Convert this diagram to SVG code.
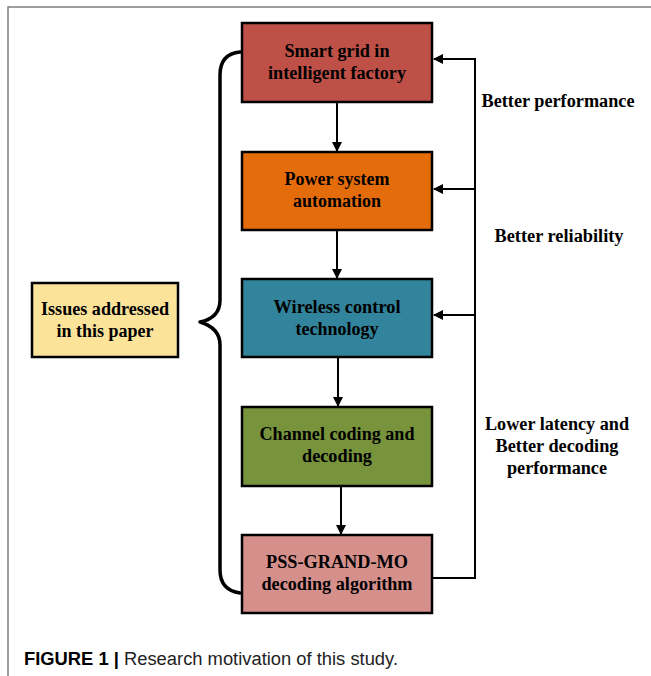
<svg xmlns="http://www.w3.org/2000/svg" width="651" height="676" viewBox="0 0 651 676">
<style>
.box{stroke:#000;stroke-width:2.5}
.t{font-family:"Liberation Serif","Times New Roman",serif;font-weight:bold;font-size:18.5px;fill:#000}
.c{stroke:#000;stroke-width:2;fill:none}
.br{stroke:#000;stroke-width:3.5;fill:none;stroke-linecap:round;stroke-linejoin:round}
.frame{stroke:#7f7f7f;stroke-width:1.5;fill:none}
.cap{font-family:"Liberation Sans",Arial,sans-serif;font-size:18px;fill:#222}
</style>
<defs>
<marker id="ah" markerWidth="10" markerHeight="10" refX="9" refY="5" orient="auto" markerUnits="userSpaceOnUse">
<path d="M0,0 L10,5 L0,10 Z" fill="#000"/>
</marker>
</defs>
<rect width="651" height="676" fill="#fff"/>
<path class="frame" d="M8,676 L8,7 L651,7"/>

<g id="connectors">
<line class="c" x1="337" y1="103" x2="337" y2="151" marker-end="url(#ah)"/>
<line class="c" x1="337" y1="231" x2="337" y2="278" marker-end="url(#ah)"/>
<line class="c" x1="338" y1="358" x2="338" y2="406" marker-end="url(#ah)"/>
<line class="c" x1="341" y1="487" x2="341" y2="534" marker-end="url(#ah)"/>
<path class="c" d="M433,578 L475,578 L475,59 L434,59" marker-end="url(#ah)"/>
<line class="c" x1="475" y1="189" x2="434" y2="189" marker-end="url(#ah)"/>
<line class="c" x1="475" y1="315" x2="434" y2="315" marker-end="url(#ah)"/>
<path class="br" d="M240,52 Q220,54 220,75 L220,300 Q220,318 200,322 Q220,328 220,345 L220,570 Q220,590 240,593"/>
</g>

<g id="n1">
<rect class="box" x="242" y="23" width="190" height="79" fill="#BE5048"/>
<text class="t" x="337" y="57" text-anchor="middle" textLength="105" lengthAdjust="spacingAndGlyphs">Smart grid in</text>
<text class="t" x="337" y="79" text-anchor="middle" textLength="138" lengthAdjust="spacingAndGlyphs">intelligent factory</text>
</g>
<g id="n2">
<rect class="box" x="242" y="152" width="190" height="78" fill="#E46C0A"/>
<text class="t" x="337" y="185" text-anchor="middle" textLength="105" lengthAdjust="spacingAndGlyphs">Power system</text>
<text class="t" x="337" y="207" text-anchor="middle" textLength="88" lengthAdjust="spacingAndGlyphs">automation</text>
</g>
<g id="n3">
<rect class="box" x="242" y="279" width="190" height="78" fill="#31849B"/>
<text class="t" x="337" y="313" text-anchor="middle" textLength="127" lengthAdjust="spacingAndGlyphs">Wireless control</text>
<text class="t" x="337" y="335" text-anchor="middle" textLength="83" lengthAdjust="spacingAndGlyphs">technology</text>
</g>
<g id="n4">
<rect class="box" x="242" y="407" width="190" height="79" fill="#77933C"/>
<text class="t" x="337" y="440" text-anchor="middle" textLength="155" lengthAdjust="spacingAndGlyphs">Channel coding and</text>
<text class="t" x="337" y="462" text-anchor="middle" textLength="70" lengthAdjust="spacingAndGlyphs">decoding</text>
</g>
<g id="n5">
<rect class="box" x="242" y="535" width="190" height="78" fill="#D6908C"/>
<text class="t" x="337" y="568" text-anchor="middle" textLength="142" lengthAdjust="spacingAndGlyphs">PSS-GRAND-MO</text>
<text class="t" x="337" y="590" text-anchor="middle" textLength="151" lengthAdjust="spacingAndGlyphs">decoding algorithm</text>
</g>
<g id="issues">
<rect class="box" x="32" y="283" width="146" height="74" fill="#FCE39A"/>
<text class="t" x="105" y="315" text-anchor="middle" textLength="128" lengthAdjust="spacingAndGlyphs">Issues addressed</text>
<text class="t" x="105" y="337" text-anchor="middle" textLength="97" lengthAdjust="spacingAndGlyphs">in this paper</text>
</g>
<g id="labels">
<text class="t" x="558" y="107" text-anchor="middle" textLength="153" lengthAdjust="spacingAndGlyphs">Better performance</text>
<text class="t" x="559" y="242" text-anchor="middle" textLength="129" lengthAdjust="spacingAndGlyphs">Better reliability</text>
<text class="t" x="557" y="430" text-anchor="middle" textLength="144" lengthAdjust="spacingAndGlyphs">Lower latency and</text>
<text class="t" x="557" y="452" text-anchor="middle" textLength="123" lengthAdjust="spacingAndGlyphs">Better decoding</text>
<text class="t" x="557" y="474" text-anchor="middle" textLength="100" lengthAdjust="spacingAndGlyphs">performance</text>
</g>
<text class="cap" x="24" y="665" textLength="374" lengthAdjust="spacingAndGlyphs"><tspan font-weight="bold" fill="#000">FIGURE 1</tspan> <tspan font-weight="bold" fill="#000">|</tspan> Research motivation of this study.</text>
</svg>
